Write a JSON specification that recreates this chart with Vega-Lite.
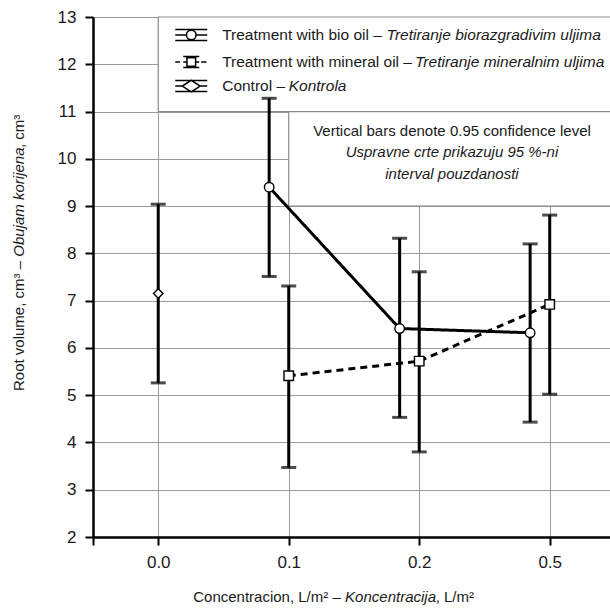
{
  "$schema": "https://vega.github.io/schema/vega-lite/v6.json",
  "autosize": {"type": "none"},
  "padding": {"left": 93, "top": 17, "right": 0, "bottom": 73},
  "width": 517,
  "height": 520,
  "background": "white",
  "config": {
    "view": {"stroke": null},
    "font": "Liberation Sans",
    "text": {"font": "Liberation Sans", "fontSize": 15, "color": "#1a1a1a"}
  },
  "datasets": {
    "main": [
      {"conc": "0.0", "xpos": 0, "series": "Control", "mean": 7.15, "lower": 5.26, "upper": 9.04},
      {"conc": "0.1", "xpos": 0.85, "series": "Bio oil", "mean": 9.40, "lower": 7.51, "upper": 11.28},
      {"conc": "0.2", "xpos": 1.85, "series": "Bio oil", "mean": 6.41, "lower": 4.53, "upper": 8.32},
      {"conc": "0.5", "xpos": 2.85, "series": "Bio oil", "mean": 6.32, "lower": 4.43, "upper": 8.20},
      {"conc": "0.1", "xpos": 1, "series": "Mineral oil", "mean": 5.41, "lower": 3.47, "upper": 7.31},
      {"conc": "0.2", "xpos": 2, "series": "Mineral oil", "mean": 5.72, "lower": 3.80, "upper": 7.61},
      {"conc": "0.5", "xpos": 3, "series": "Mineral oil", "mean": 6.92, "lower": 5.02, "upper": 8.81}
    ],
    "single": [{"k": 1}]
  },
  "layer": [
    {
      "data": {"name": "single"},
      "mark": {"type": "rect", "fill": "white", "stroke": "#8a8a8a", "strokeWidth": 1.2},
      "encoding": {
        "x": {
          "datum": 0, "type": "quantitative",
          "scale": {"domain": [-0.5, 3.462], "nice": false, "zero": false},
          "axis": {
            "title": null, "values": [-0.5, 0, 1, 2, 3],
            "labelExpr": "datum.value == 0 ? '0.0' : datum.value == 1 ? '0.1' : datum.value == 2 ? '0.2' : datum.value == 3 ? '0.5' : ''",
            "labelFont": "Liberation Sans", "labelFontSize": 17, "labelColor": "#1a1a1a",
            "labelPadding": 9, "tickSize": 8, "tickWidth": 2, "tickColor": "black",
            "domainColor": "black", "domainWidth": 2.5,
            "grid": true, "gridColor": "#9a9a9a", "gridWidth": 1
          }
        },
        "x2": {"datum": 3.7},
        "y": {
          "datum": 11, "type": "quantitative",
          "scale": {"domain": [2, 13], "nice": false, "zero": false},
          "axis": {
            "title": null, "values": [2, 3, 4, 5, 6, 7, 8, 9, 10, 11, 12, 13],
            "labelFont": "Liberation Sans", "labelFontSize": 17, "labelColor": "#1a1a1a",
            "labelPadding": 9, "tickSize": 8, "tickWidth": 2, "tickColor": "black",
            "domainColor": "black", "domainWidth": 2.5,
            "grid": true, "gridColor": "#9a9a9a", "gridWidth": 1
          }
        },
        "y2": {"datum": 13}
      }
    },
    {
      "data": {"name": "single"},
      "mark": {"type": "rect", "fill": "white", "stroke": "#8a8a8a", "strokeWidth": 1.2},
      "encoding": {"x": {"datum": 1, "type": "quantitative"}, "x2": {"datum": 3.7}, "y": {"datum": 9, "type": "quantitative"}, "y2": {"datum": 11}}
    },
    {
      "data": {"name": "main"},
      "mark": {"type": "errorbar", "ticks": {"size": 15, "thickness": 3, "color": "black"}, "rule": {"strokeWidth": 3, "color": "black"}},
      "encoding": {
        "x": {"field": "xpos", "type": "quantitative"},
        "y": {"field": "lower", "type": "quantitative"},
        "y2": {"field": "upper"}
      }
    },
    {
      "data": {"name": "main"},
      "transform": [{"filter": "datum.series != 'Control'"}],
      "mark": {"type": "line", "color": "black", "strokeWidth": 3},
      "encoding": {
        "x": {"field": "xpos", "type": "quantitative"},
        "y": {"field": "mean", "type": "quantitative"},
        "detail": {"field": "series"},
        "strokeDash": {"field": "series", "type": "nominal", "scale": {"domain": ["Bio oil", "Mineral oil"], "range": [[1, 0], [7, 5]]}, "legend": null}
      }
    },
    {
      "data": {"name": "main"},
      "mark": {"type": "point", "filled": true, "fill": "white", "stroke": "black", "strokeWidth": 1.4, "size": 90, "opacity": 1},
      "encoding": {
        "x": {"field": "xpos", "type": "quantitative"},
        "y": {"field": "mean", "type": "quantitative"},
        "shape": {"field": "series", "type": "nominal", "scale": {"domain": ["Bio oil", "Mineral oil", "Control"], "range": ["circle", "square", "diamond"]}, "legend": null}
      }
    },
    {
      "data": {"name": "single"},
      "mark": {"type": "point", "filled": true, "fill": "white", "stroke": "black", "strokeWidth": 1.5, "size": 1024, "opacity": 1,
        "shape": "M-1,-0.34H1M-1,0.34H1M-1,0H-0.3M0.3,0H1M-0.3,0A0.3,0.3,0,1,0,0.3,0A0.3,0.3,0,1,0,-0.3,0Z"},
      "encoding": {"x": {"datum": 0.253, "type": "quantitative"}, "y": {"datum": 12.619, "type": "quantitative"}}
    },
    {
      "data": {"name": "single"},
      "mark": {"type": "point", "filled": true, "fill": "white", "stroke": "black", "strokeWidth": 1.5, "size": 1024, "opacity": 1,
        "shape": "M-0.5,-0.34H0.5M-0.5,0.34H0.5M-1,0H-0.7M-0.5,0H-0.27M0.27,0H0.5M0.62,0H0.95M-0.27,-0.27H0.27V0.27H-0.27Z"},
      "encoding": {"x": {"datum": 0.253, "type": "quantitative"}, "y": {"datum": 12.048, "type": "quantitative"}}
    },
    {
      "data": {"name": "single"},
      "mark": {"type": "point", "filled": true, "fill": "white", "stroke": "black", "strokeWidth": 1.5, "size": 1024, "opacity": 1,
        "shape": "M-1,-0.34H1M-1,0.34H1M-1,0H-0.56M0.56,0H1M0,-0.36L0.56,0L0,0.36L-0.56,0Z"},
      "encoding": {"x": {"datum": 0.253, "type": "quantitative"}, "y": {"datum": 11.54, "type": "quantitative"}}
    },
    {
      "data": {"name": "single"},
      "mark": {"type": "text", "align": "left", "baseline": "middle", "fontSize": 15.5, "text": "Treatment with bio oil –"},
      "encoding": {"x": {"datum": 0.49, "type": "quantitative"}, "y": {"datum": 12.619, "type": "quantitative"}}
    },
    {
      "data": {"name": "single"},
      "mark": {"type": "text", "align": "left", "baseline": "middle", "fontSize": 15.5, "fontStyle": "italic", "text": "Tretiranje biorazgradivim uljima"},
      "encoding": {"x": {"datum": 1.75, "type": "quantitative"}, "y": {"datum": 12.619, "type": "quantitative"}}
    },
    {
      "data": {"name": "single"},
      "mark": {"type": "text", "align": "left", "baseline": "middle", "fontSize": 15.5, "text": "Treatment with mineral oil –"},
      "encoding": {"x": {"datum": 0.49, "type": "quantitative"}, "y": {"datum": 12.048, "type": "quantitative"}}
    },
    {
      "data": {"name": "single"},
      "mark": {"type": "text", "align": "left", "baseline": "middle", "fontSize": 15.5, "fontStyle": "italic", "text": "Tretiranje mineralnim uljima"},
      "encoding": {"x": {"datum": 1.968, "type": "quantitative"}, "y": {"datum": 12.048, "type": "quantitative"}}
    },
    {
      "data": {"name": "single"},
      "mark": {"type": "text", "align": "left", "baseline": "middle", "fontSize": 15.5, "text": "Control –"},
      "encoding": {"x": {"datum": 0.49, "type": "quantitative"}, "y": {"datum": 11.54, "type": "quantitative"}}
    },
    {
      "data": {"name": "single"},
      "mark": {"type": "text", "align": "left", "baseline": "middle", "fontSize": 15.5, "fontStyle": "italic", "text": "Kontrola"},
      "encoding": {"x": {"datum": 1.0, "type": "quantitative"}, "y": {"datum": 11.54, "type": "quantitative"}}
    },
    {
      "data": {"name": "single"},
      "mark": {"type": "text", "align": "center", "baseline": "middle", "text": "Vertical bars denote 0.95 confidence level"},
      "encoding": {"x": {"datum": 2.251, "type": "quantitative"}, "y": {"datum": 10.588, "type": "quantitative"}}
    },
    {
      "data": {"name": "single"},
      "mark": {"type": "text", "align": "center", "baseline": "middle", "fontStyle": "italic", "text": "Uspravne crte prikazuju 95 %-ni"},
      "encoding": {"x": {"datum": 2.251, "type": "quantitative"}, "y": {"datum": 10.144, "type": "quantitative"}}
    },
    {
      "data": {"name": "single"},
      "mark": {"type": "text", "align": "center", "baseline": "middle", "fontStyle": "italic", "text": "interval pouzdanosti"},
      "encoding": {"x": {"datum": 2.251, "type": "quantitative"}, "y": {"datum": 9.679, "type": "quantitative"}}
    },
    {
      "data": {"name": "single"},
      "mark": {"type": "text", "align": "left", "baseline": "middle", "text": "Concentracion, L/m² –"},
      "encoding": {"x": {"datum": 0.268, "type": "quantitative"}, "y": {"datum": 0.73, "type": "quantitative"}}
    },
    {
      "data": {"name": "single"},
      "mark": {"type": "text", "align": "left", "baseline": "middle", "fontStyle": "italic", "text": "Koncentracija"},
      "encoding": {"x": {"datum": 1.432, "type": "quantitative"}, "y": {"datum": 0.73, "type": "quantitative"}}
    },
    {
      "data": {"name": "single"},
      "mark": {"type": "text", "align": "left", "baseline": "middle", "text": ", L/m²"},
      "encoding": {"x": {"datum": 2.126, "type": "quantitative"}, "y": {"datum": 0.73, "type": "quantitative"}}
    },
    {
      "data": {"name": "single"},
      "mark": {"type": "text", "align": "left", "baseline": "middle", "angle": 270, "text": "Root volume, cm³ –"},
      "encoding": {"x": {"datum": -1.065, "type": "quantitative"}, "y": {"datum": 5.088, "type": "quantitative"}}
    },
    {
      "data": {"name": "single"},
      "mark": {"type": "text", "align": "left", "baseline": "middle", "angle": 270, "fontStyle": "italic", "text": "Obujam korijena"},
      "encoding": {"x": {"datum": -1.065, "type": "quantitative"}, "y": {"datum": 7.93, "type": "quantitative"}}
    },
    {
      "data": {"name": "single"},
      "mark": {"type": "text", "align": "left", "baseline": "middle", "angle": 270, "text": ", cm³"},
      "encoding": {"x": {"datum": -1.065, "type": "quantitative"}, "y": {"datum": 10.229, "type": "quantitative"}}
    }
  ]
}
